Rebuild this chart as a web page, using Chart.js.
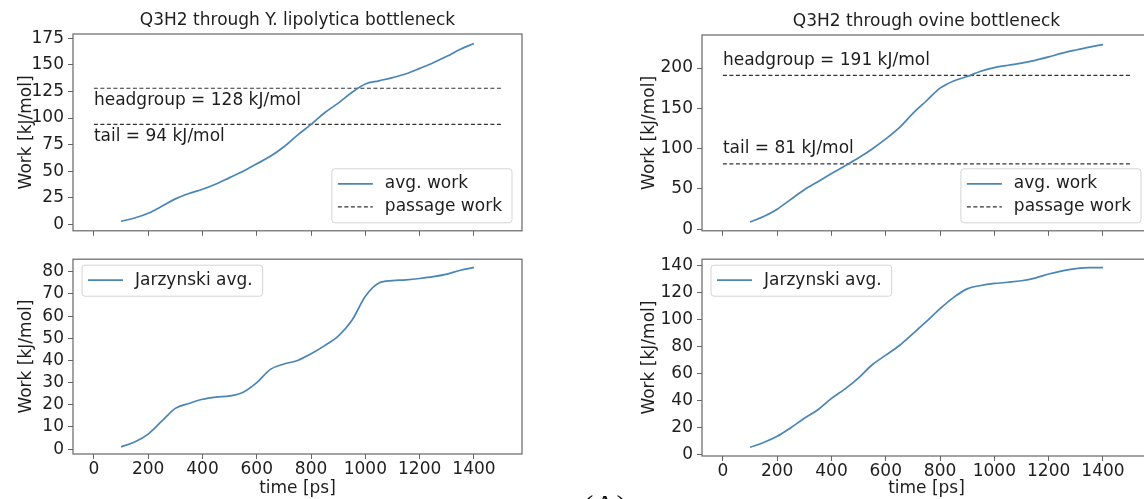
<!DOCTYPE html>
<html>
<head>
<meta charset="utf-8">
<title>Q3H2 bottleneck work</title>
<script src="https://cdn.jsdelivr.net/npm/chart.js@4.4.1/dist/chart.umd.min.js"></script>
<style>
  html, body { margin: 0; padding: 0; background: #fff; }
  body { width: 1144px; height: 499px; position: relative; overflow: hidden; }
  canvas { position: absolute; }
  #panel-label {
    position: absolute; left: 563px; top: 490px; width: 84px;
    text-align: center; font: 32px/32px "Liberation Serif", serif; color: #111;
  }
</style>
</head>
<body>
<canvas id="ylTop" width="540" height="245" style="left:0;top:0"></canvas>
<canvas id="ylBottom" width="540" height="254" style="left:0;top:245px"></canvas>
<canvas id="ovTop" width="560" height="245" style="left:600px;top:0"></canvas>
<canvas id="ovBottom" width="560" height="254" style="left:600px;top:245px"></canvas>
<div id="panel-label">(A)</div>

<script>
// time axis shared by all four panels (ps)
const timePs = [100, 150, 200, 250, 300, 350, 400, 450, 500, 550, 600, 650, 700,
  750, 800, 850, 900, 950, 1000, 1050, 1100, 1150, 1200, 1250, 1300, 1350, 1400];

// Y. lipolytica bottleneck
const ylAvgWork = [3, 6, 10.5, 17, 24, 29, 33, 38, 44, 50, 57, 64, 73,
  84, 94, 105, 114, 124, 132, 135, 138, 141.6, 146.7, 152, 158, 164.7, 170];
const ylJarzynski = [1, 3.2, 6.8, 12.6, 18.4, 20.6, 22.5, 23.5, 24, 25.7, 30, 36, 38.4,
  40, 43, 46.7, 51, 58, 69, 75, 76, 76.4, 77, 77.8, 79, 80.7, 82];
const ylPassage = [128, 94];

// ovine bottleneck
const ovAvgWork = [9, 15.7, 24.8, 37, 49, 59, 69, 78.7, 88.6, 99.6, 112, 126, 143.7,
  159.4, 175, 184, 189.5, 196, 200.5, 203.5, 206, 209.5, 213.8, 218.5, 222.4, 226, 229];
const ovJarzynski = [5.5, 9, 13.6, 20, 27, 33.3, 41.7, 48.8, 57, 66.7, 73.8, 81, 89.8,
  98.8, 108.3, 116.7, 123, 125.5, 127, 127.9, 129, 131, 134, 136.4, 138, 138.8, 138.8];
const ovPassage = [191, 81];

const passageNames = ['headgroup', 'tail'];
const passageSpan = [0, 1500];

// tick values
const xTicks = [0, 200, 400, 600, 800, 1000, 1200, 1400];
const ylTopTicks = [0, 25, 50, 75, 100, 125, 150, 175];
const ylBottomTicks = [0, 10, 20, 30, 40, 50, 60, 70, 80];
const ovTopTicks = [0, 50, 100, 150, 200];
const ovBottomTicks = [0, 20, 40, 60, 80, 100, 120, 140];

const CURVE = '#4a86b5';
const DASH = '#333';
const AXIS = '#666';
const TEXT = '#1e1e1e';
const FONT = '17px "DejaVu Sans"';

Chart.defaults.font.family = '"DejaVu Sans"';
Chart.defaults.font.size = 17;
Chart.defaults.color = TEXT;

// frame, title, passage labels and legend box drawn on top of each panel
function overlay(opts) {
  return {
    id: 'overlay',
    afterDraw(chart) {
      const { ctx, chartArea: a, scales: { x, y } } = chart;
      ctx.save();
      ctx.strokeStyle = AXIS;
      ctx.lineWidth = 1.2;
      ctx.strokeRect(a.left, a.top, a.right - a.left, a.bottom - a.top);

      ctx.font = FONT;
      ctx.fillStyle = TEXT;
      ctx.textBaseline = 'middle';

      if (opts.title) {
        ctx.textAlign = 'center';
        ctx.fillText(opts.title, (a.left + a.right) / 2, a.top - 13);
      }

      if (opts.passage) {
        ctx.textAlign = 'left';
        opts.passage.forEach((v, i) => {
          ctx.fillText(passageNames[i] + ' = ' + v + ' kJ/mol',
            x.getPixelForValue(passageSpan[0]), y.getPixelForValue(v) + opts.labelDy);
        });
      }

      if (opts.legend) drawLegend(ctx, a, opts.legend);
      ctx.restore();
    }
  };
}

function drawLegend(ctx, a, legend) {
  const items = legend.items;
  const textW = Math.max(...items.map(it => ctx.measureText(it.label).width));
  const w = 6 + 35 + 12 + textW + 10;
  const h = 8 + 23 * items.length;
  const left = legend.corner === 'br' ? a.right - 10 - w : a.left + 9;
  const top = legend.corner === 'br' ? a.bottom - 8 - h : a.top + 6;

  ctx.beginPath();
  ctx.roundRect(left, top, w, h, 3);
  ctx.fillStyle = 'rgba(255,255,255,0.85)';
  ctx.fill();
  ctx.strokeStyle = '#d4d4d4';
  ctx.lineWidth = 1;
  ctx.stroke();

  items.forEach((it, i) => {
    const cy = top + 15 + 23 * i;
    ctx.beginPath();
    ctx.setLineDash(it.dashed ? [4, 2.5] : []);
    ctx.strokeStyle = it.dashed ? DASH : CURVE;
    ctx.lineWidth = it.dashed ? 1.2 : 1.7;
    ctx.moveTo(left + 6, cy);
    ctx.lineTo(left + 41, cy);
    ctx.stroke();
    ctx.setLineDash([]);
    ctx.fillStyle = TEXT;
    ctx.textAlign = 'left';
    ctx.fillText(it.label, left + 53, cy);
  });
}

function panel(id, opts) {
  const ctx = document.getElementById(id);
  const datasets = [{
    data: timePs.map((t, i) => ({ x: t, y: opts.values[i] })),
    borderColor: CURVE,
    borderWidth: 1.7,
    pointRadius: 0,
    tension: 0.4,
    cubicInterpolationMode: 'monotone'
  }];
  (opts.passage || []).forEach(v => {
    datasets.push({
      data: passageSpan.map(t => ({ x: t, y: v })),
      borderColor: DASH,
      borderWidth: 1.2,
      borderDash: [4, 2.5],
      pointRadius: 0
    });
  });

  return new Chart(ctx, {
    type: 'line',
    data: { datasets: datasets },
    options: {
      responsive: false,
      animation: false,
      events: [],
      layout: { padding: opts.padding },
      plugins: {
        legend: { display: false },
        tooltip: { enabled: false }
      },
      scales: {
        x: {
          type: 'linear',
          min: -77,
          max: 1577,
          afterBuildTicks: s => { s.ticks = xTicks.map(v => ({ value: v })); },
          afterFit: s => { s.height = opts.xHeight; },
          grid: { drawOnChartArea: false, tickLength: 5, tickColor: AXIS },
          border: { display: false },
          ticks: { display: opts.xLabels, padding: 0, color: TEXT, callback: v => String(v) },
          title: {
            display: opts.xLabels,
            text: 'time [ps]',
            color: TEXT,
            padding: { top: 0, bottom: 0.5 }
          }
        },
        y: {
          type: 'linear',
          min: opts.yMin,
          max: opts.yMax,
          afterBuildTicks: s => { s.ticks = opts.yTicks.map(v => ({ value: v })); },
          afterFit: s => { s.width = opts.yWidth; },
          grid: { drawOnChartArea: false, tickLength: 5, tickColor: AXIS },
          border: { display: false },
          ticks: { padding: 4, color: TEXT, callback: v => String(v) },
          title: {
            display: true,
            text: 'Work [kJ/mol]',
            color: TEXT,
            padding: { top: opts.yTitlePad, bottom: 0 }
          }
        }
      }
    },
    plugins: [overlay(opts)]
  });
}

panel('ylTop', {
  values: ylAvgWork,
  passage: ylPassage,
  labelDy: 12,
  title: 'Q3H2 through Y. lipolytica bottleneck',
  legend: { corner: 'br', items: [{ label: 'avg. work' }, { label: 'passage work', dashed: true }] },
  padding: { top: 34, right: 18, left: 0, bottom: 0 },
  xHeight: 5, xLabels: false,
  yMin: -6, yMax: 179, yTicks: ylTopTicks, yWidth: 73, yTitlePad: 16
});

panel('ylBottom', {
  values: ylJarzynski,
  legend: { corner: 'tl', items: [{ label: 'Jarzynski avg.' }] },
  padding: { top: 7, right: 18, left: 0, bottom: 0 },
  xHeight: 45, xLabels: true,
  yMin: -2.2, yMax: 85.7, yTicks: ylBottomTicks, yWidth: 73, yTitlePad: 16
});

panel('ovTop', {
  values: ovAvgWork,
  passage: ovPassage,
  labelDy: -15,
  title: 'Q3H2 through ovine bottleneck',
  legend: { corner: 'br', items: [{ label: 'avg. work' }, { label: 'passage work', dashed: true }] },
  padding: { top: 35, right: 9, left: 0, bottom: 0 },
  xHeight: 5, xLabels: false,
  yMin: -2, yMax: 241, yTicks: ovTopTicks, yWidth: 102, yTitlePad: 39.5
});

panel('ovBottom', {
  values: ovJarzynski,
  legend: { corner: 'tl', items: [{ label: 'Jarzynski avg.' }] },
  padding: { top: 7, right: 9, left: 0, bottom: 0 },
  xHeight: 43, xLabels: true,
  yMin: -1, yMax: 145, yTicks: ovBottomTicks, yWidth: 102, yTitlePad: 39.5
});
</script>
</body>
</html>
